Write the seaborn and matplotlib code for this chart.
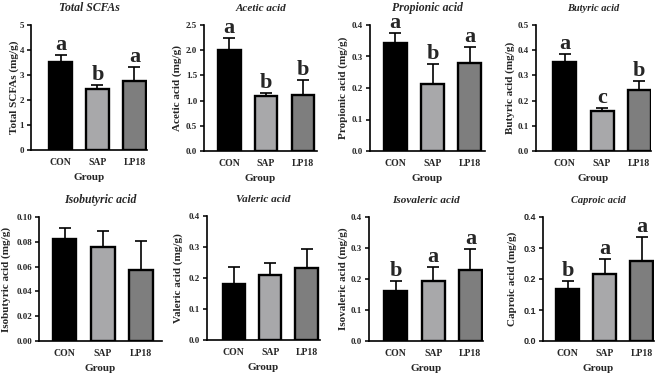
import matplotlib
matplotlib.use('Agg')
import matplotlib.pyplot as plt
import seaborn as sns
import numpy as np
from matplotlib.ticker import MultipleLocator, FormatStrFormatter

# Data (mean and SD)
groups = ['CON', 'SAP', 'LP18']
titles = ['Total SCFAs', 'Acetic acid', 'Propionic acid', 'Butyric acid',
          'Isobutyric acid', 'Valeric acid', 'Isovaleric acid', 'Caproic acid']
ylabels = ['Total SCFAs (mg/g)', 'Acetic acid (mg/g)', 'Propionic acid (mg/g)',
           'Butyric acid (mg/g)', 'Isobutyric acid (mg/g)', 'Valeric acid (mg/g)',
           'Isovaleric acid (mg/g)', 'Caproic acid (mg/g)']

total_mean = [3.52, 2.45, 2.78]
total_sd = [0.28, 0.17, 0.55]
acetic_mean = [2.00, 1.09, 1.12]
acetic_sd = [0.24, 0.07, 0.28]
propionic_mean = [0.342, 0.213, 0.280]
propionic_sd = [0.033, 0.062, 0.050]
butyric_mean = [0.352, 0.160, 0.243]
butyric_sd = [0.033, 0.012, 0.035]
isobutyric_mean = [0.0825, 0.0755, 0.0575]
isobutyric_sd = [0.0085, 0.013, 0.0235]
valeric_mean = [0.182, 0.210, 0.233]
valeric_sd = [0.053, 0.037, 0.062]
isovaleric_mean = [0.162, 0.195, 0.230]
isovaleric_sd = [0.032, 0.045, 0.067]
caproic_mean = [0.168, 0.217, 0.258]
caproic_sd = [0.027, 0.048, 0.079]

letters = [['a', 'b', 'a'], ['a', 'b', 'b'], ['a', 'b', 'a'], ['a', 'c', 'b'],
           None, None, ['b', 'a', 'a'], ['b', 'a', 'a']]

y_max = [5, 2.5, 0.4, 0.5, 0.10, 0.4, 0.4, 0.4]
y_step = [1, 0.5, 0.1, 0.1, 0.02, 0.1, 0.1, 0.1]
y_fmt = ['%d', '%.1f', '%.1f', '%.1f', '%.2f', '%.1f', '%.1f', '%.1f']

means = [total_mean, acetic_mean, propionic_mean, butyric_mean,
         isobutyric_mean, valeric_mean, isovaleric_mean, caproic_mean]
sds = [total_sd, acetic_sd, propionic_sd, butyric_sd,
       isobutyric_sd, valeric_sd, isovaleric_sd, caproic_sd]

colors = ['#000000', '#a8a8aa', '#7e7e7e']

# Layout in pixels: (left, right, top, bottom) of each axes, x limits,
# and horizontal offset of the y label centre from the y axis
W, H = 669, 377
rects = [(31, 147, 25, 150), (204, 317, 25, 151), (370, 485, 25, 151), (536, 651, 25, 151),
         (39, 162, 217, 341), (207, 320, 216, 340), (369, 483, 217, 341), (543, 654, 217, 341)]
xlims = [(-0.8, 2.34), (-0.68, 2.38), (-0.68, 2.41), (-0.78, 2.32),
         (-0.67, 2.55), (-0.74, 2.37), (-0.72, 2.34), (-0.67, 2.33)]
ylab_dx = [-17, -27, -27, -26, -33, -29, -26, -31]
title_size = [8.5, 8, 8.5, 7.5, 8.5, 8, 8, 7.5]

sns.set_style('ticks')
plt.rcParams['font.family'] = ['Liberation Serif']
plt.rcParams['font.weight'] = 'bold'

fig = plt.figure(figsize=(W / 100, H / 100), dpi=100)

for i in range(8):
    l, r, t, b = rects[i]
    ax = fig.add_axes([l / W, 1 - b / H, (r - l) / W, (b - t) / H])
    sns.barplot(x=groups, y=means[i], hue=groups, palette=colors, legend=False,
                edgecolor='black', linewidth=1.7, width=0.62, errorbar=None, ax=ax)
    ax.errorbar(range(3), means[i], yerr=[[0, 0, 0], sds[i]], fmt='none',
                ecolor='black', elinewidth=1.2, capsize=4, capthick=1.2, zorder=1)

    if letters[i] is not None:
        for j in range(3):
            ax.text(j, means[i][j] + sds[i][j], letters[i][j], ha='center', va='bottom',
                    fontsize=16, fontweight='bold', clip_on=False)

    ax.set_xlim(*xlims[i])
    ax.set_ylim(0, y_max[i])
    ax.yaxis.set_major_locator(MultipleLocator(y_step[i]))
    ax.yaxis.set_major_formatter(FormatStrFormatter(y_fmt[i]))
    ax.set_title(titles[i], fontsize=title_size[i], fontweight='bold', style='italic', pad=10)
    ax.set_xlabel('Group', fontsize=8, fontweight='bold', labelpad=4)
    ax.set_ylabel(ylabels[i], fontsize=8, fontweight='bold')
    ax.yaxis.label.set_verticalalignment('center')
    ax.yaxis.set_label_coords(ylab_dx[i] / (r - l), 0.5)

    sns.despine(ax=ax)
    for side in ['left', 'bottom']:
        ax.spines[side].set_linewidth(1.2)
        ax.spines[side].set_color('black')
    ax.tick_params(axis='both', length=3, width=1.1, color='black', pad=2)
    ax.tick_params(axis='x', length=0, pad=6)
    for lab in ax.get_xticklabels():
        lab.set_fontsize(7)
        lab.set_fontweight('bold')
    for lab in ax.get_yticklabels():
        lab.set_fontsize(6.5)
        lab.set_fontweight('bold')
        if i == 7:
            lab.set_family('Liberation Sans')

fig.savefig('out.png', dpi=100)
